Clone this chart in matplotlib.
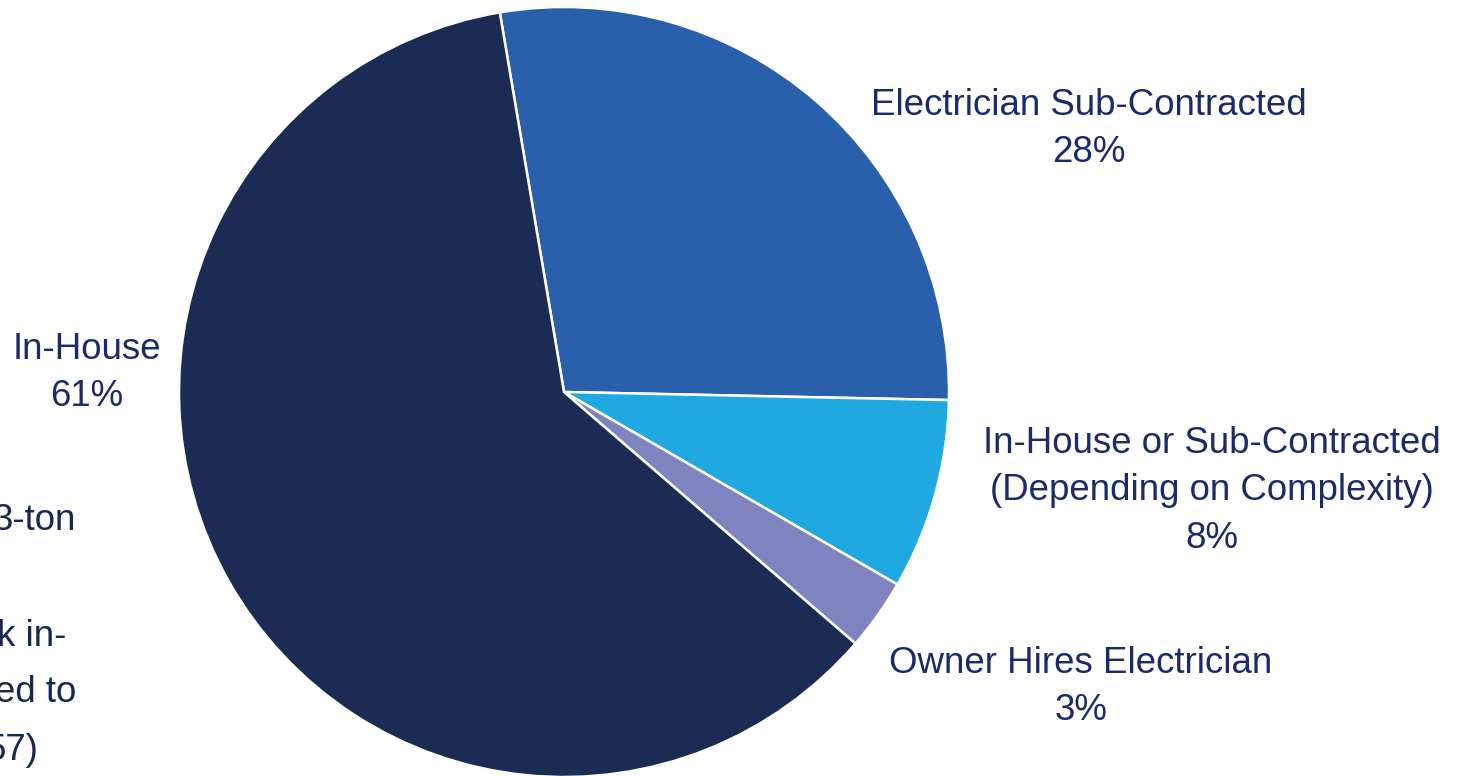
import matplotlib.pyplot as plt

# Share of respondents by who does the electrical work
categories = ["Electrician Sub-Contracted",
              "In-House or Sub-Contracted\n(Depending on Complexity)",
              "Owner Hires Electrician",
              "In-House"]
shares = [28, 8, 3, 61]
colors = ["#2A60AB", "#20A9E0", "#7F83C0", "#1A2B54"]

# label anchor points in pixel space (x, y from top)
label_pos = [(1089, 129), (1212, 491), (1081, 687), (87, 373)]

# fragments of a neighbouring text box, clipped by the left edge
side_text = ["3-ton", "k in-", "ed to", "57)"]
side_y = [521, 636, 693, 751]
side_right = [76, 66, 76, 38]

W, H = 1463, 776
fig = plt.figure(figsize=(W / 100, H / 100), dpi=100)
ax = fig.add_axes([0, 0, 1, 1])

ax.pie(shares, colors=colors, startangle=99.6, counterclock=False,
       center=(564, H - 392), radius=385, frame=True,
       wedgeprops=dict(edgecolor="white", linewidth=1.8))
ax.set_xlim(0, W)
ax.set_ylim(0, H)
ax.set_aspect("equal")
ax.axis("off")

for cat, val, (x, y) in zip(categories, shares, label_pos):
    ax.text(x, H - y, f"{cat}\n{val}%", ha="center", va="center",
            fontsize=26.4, color="#1B2A6B", family="Liberation Sans",
            linespacing=1.45)

for t, x, y in zip(side_text, side_right, side_y):
    ax.text(x, H - y, t, ha="right", va="center", fontsize=26.4,
            color="#15284F", family="Liberation Sans")

fig.savefig("out.png", dpi=100)
